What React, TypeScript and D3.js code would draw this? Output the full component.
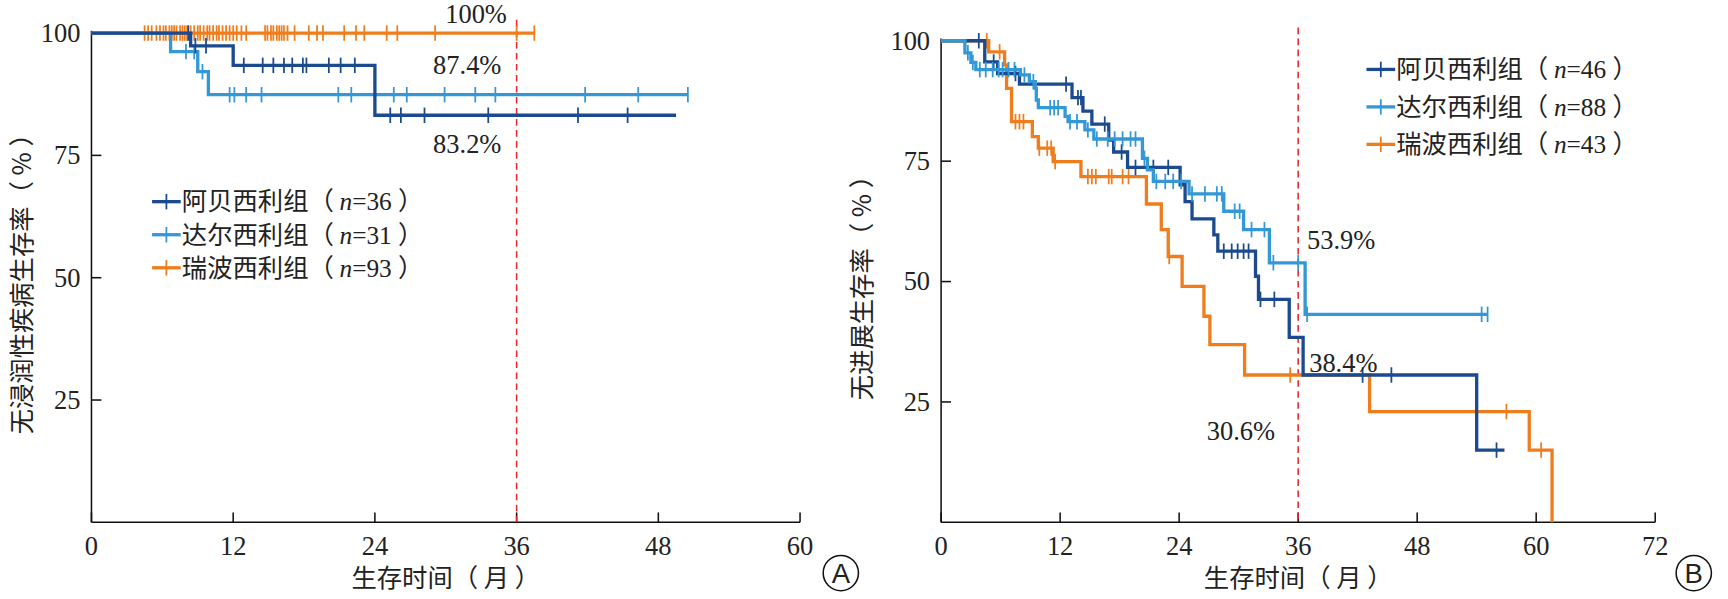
// @ts-nocheck
import { useRef, useEffect } from "react";
import * as d3 from "d3";

const COLORS = { abe: "#1b4a8e", dar: "#3497d6", rib: "#f07d1c" };
const xTicksA = [0, 12, 24, 36, 48, 60];
const xTicksB = [0, 12, 24, 36, 48, 60, 72];
const yTicks = [25, 50, 75, 100];

// Panel A: [month, survival %]
const aAbe = [[0, 100], [8.4, 97.4], [12, 93.4], [24, 83.2], [49.5, 83.2]];
const aDar = [[0, 100], [6.7, 96.2], [9, 92.1], [9.9, 87.4], [50.5, 87.4]];
const aRib = [[0, 100], [37.5, 100]];
const aAbeCens = [8.2, 8.8, 9.7, 12.9, 14.5, 15.4, 16.3, 17, 17.9, 18.2, 20.1, 21.1, 22.3, 25.3, 26.2, 28.2, 33.6, 41.2, 45.4];
const aDarCens = [8, 8.7, 9.4, 11.7, 12.1, 13.1, 14.4, 20.9, 22, 25.6, 26.7, 29.9, 32.5, 34.2, 41.8, 46.3, 50.5];
const aRibCens = [4.5, 4.8, 5.1, 5.5, 5.8, 6.1, 6.3, 6.6, 6.8, 7, 7.2, 7.5, 7.7, 7.9, 8.1, 8.4, 8.7, 9, 9.2, 9.5, 9.8, 10, 10.3, 10.6, 10.8, 11.1, 11.4, 11.7, 12, 12.3, 12.7, 13.1, 14.7, 14.9, 15.2, 15.4, 15.7, 15.9, 16.1, 16.3, 16.6, 17.2, 18.4, 19.1, 19.6, 21.4, 22.4, 23.1, 25, 25.9, 29.1, 36, 37.5];

// Panel B
const bAbe = [[0, 100], [4.4, 95.6], [5.7, 93.2], [7.9, 91], [13.2, 88.2], [14.3, 85.4], [15.2, 82.7], [16.9, 79.4], [17.4, 76.9], [18.8, 73.7], [24.1, 70.1], [24.6, 66.6], [25.3, 63], [27.5, 59.7], [27.9, 56.3], [31.7, 51.1], [32, 46.3], [35.1, 38.4], [36.5, 30.6], [54, 15], [56.8, 15]];
const bDar = [[0, 100], [2.4, 97.5], [3, 95.5], [3.5, 94], [8, 92.9], [8.9, 91.5], [9.5, 90.1], [9.6, 87.7], [9.8, 86.1], [12.5, 84.3], [12.8, 83.2], [14.5, 81.5], [15.4, 79.6], [20.3, 75.6], [20.8, 73.2], [21.4, 70.8], [25, 68.2], [28.5, 64.6], [30.5, 60.8], [33.1, 53.9], [36.7, 43.2], [55.1, 43.2]];
const bRib = [[0, 100], [4.8, 97.7], [6.4, 95], [6.6, 90.1], [7.1, 83.2], [9.2, 80.1], [9.8, 77.7], [11.3, 74.9], [14.1, 71.8], [20.7, 66.1], [22.2, 60.8], [22.9, 55.2], [24.3, 49], [26.5, 42.8], [27.1, 36.9], [30.6, 30.6], [43.2, 23], [59.3, 15], [61.6, 0]];
const bAbeCens = [3.8, 5.3, 7.5, 12.6, 13.8, 14.1, 16.5, 18.2, 19.6, 21.4, 22.9, 28.5, 29.3, 29.9, 30.5, 31, 32.2, 33.6, 42.5, 45.4, 56];
const bDarCens = [2.7, 3.2, 3.9, 4.5, 5.2, 5.8, 6.2, 6.8, 7.4, 8.4, 9.3, 11, 11.4, 11.8, 13, 13.7, 14.8, 15.7, 16.8, 17.5, 18.3, 19.1, 19.6, 20.5, 21.7, 22.6, 23.4, 24.2, 25.3, 26.6, 27.8, 28.3, 29.6, 30.1, 31.3, 32.6, 33.5, 36, 36.9, 54.5, 55.1];
const bRibCens = [4.6, 5.9, 7.5, 7.9, 8.3, 9.9, 10.7, 11.1, 11.5, 14.8, 15.2, 15.6, 16.9, 17.2, 18.3, 18.9, 23, 35.2, 57, 60.5];

const legendLabels = ["阿贝西利组（ ", "达尔西利组（ ", "瑞波西利组（ "];
const nA = [36, 31, 93];
const nB = [46, 88, 43];

const stepAt = (curve, t) => {
  let s = curve[0][1];
  for (const [ti, si] of curve) if (ti <= t) s = si;
  return s;
};

const drawPanel = (svg, cfg) => {
  const { x0, x1, yTop, yBot, xMax, xTicks, series, yTitle, labels, legend, letter, yTitleX } = cfg;
  const x = d3.scaleLinear().domain([0, xMax]).range([x0, x1]);
  const y = d3.scaleLinear().domain([0, 100]).range([yBot, yTop]);
  const g = svg.append("g").attr("font-family", "Liberation Serif, serif").attr("fill", "#222");

  g.append("line").attr("x1", x0).attr("x2", x0).attr("y1", y(100) - 2).attr("y2", yBot).attr("stroke", "#111").attr("stroke-width", 1.4);
  g.append("line").attr("x1", x0).attr("x2", x1).attr("y1", yBot).attr("y2", yBot).attr("stroke", "#111").attr("stroke-width", 1.4);
  xTicks.forEach((t) => {
    g.append("line").attr("x1", x(t)).attr("x2", x(t)).attr("y1", yBot).attr("y2", yBot - 9).attr("stroke", "#111").attr("stroke-width", 1.4);
    g.append("text").attr("x", x(t)).attr("y", yBot + 30).attr("text-anchor", "middle").attr("font-size", 24).text(t);
  });
  yTicks.forEach((t) => {
    g.append("line").attr("x1", x0).attr("x2", x0 + 9).attr("y1", y(t)).attr("y2", y(t)).attr("stroke", "#111").attr("stroke-width", 1.4);
    g.append("text").attr("x", x0 - 10).attr("y", y(t) + 8).attr("text-anchor", "end").attr("font-size", 24).text(t);
  });
  g.append("text").attr("x", (x0 + x1) / 2).attr("y", yBot + 59).attr("text-anchor", "middle").attr("font-size", 23)
    .attr("font-family", "Noto Sans CJK SC").text("生存时间（ 月 ）");
  g.append("text").attr("transform", `translate(${yTitleX},${(y(100) + yBot) / 2}) rotate(-90)`).attr("text-anchor", "middle")
    .attr("font-size", 23).attr("font-family", "Noto Sans CJK SC").text(yTitle);

  g.append("line").attr("x1", x(36)).attr("x2", x(36)).attr("y1", y(100) - 12).attr("y2", yBot)
    .attr("stroke", "#e8262b").attr("stroke-width", 1.4).attr("stroke-dasharray", "6,4");

  const line = d3.line().x((d) => x(d[0])).y((d) => y(d[1])).curve(d3.curveStepAfter);
  series.forEach(({ curve, cens, color }) => {
    g.append("path").attr("d", line(curve)).attr("fill", "none").attr("stroke", color).attr("stroke-width", 3);
    cens.forEach((t) => {
      const yy = y(stepAt(curve, t));
      g.append("line").attr("x1", x(t)).attr("x2", x(t)).attr("y1", yy - 7).attr("y2", yy + 7).attr("stroke", color).attr("stroke-width", 1.6);
    });
  });

  labels.forEach(([tx, ty, s]) => {
    g.append("text").attr("x", tx).attr("y", ty).attr("font-size", 24).text(s);
  });

  legend.items.forEach((it, i) => {
    const ly = legend.y + i * legend.dy;
    g.append("line").attr("x1", legend.x).attr("x2", legend.x + 26).attr("y1", ly).attr("y2", ly).attr("stroke", it.color).attr("stroke-width", 3);
    g.append("line").attr("x1", legend.x + 13).attr("x2", legend.x + 13).attr("y1", ly - 7).attr("y2", ly + 7).attr("stroke", it.color).attr("stroke-width", 1.6);
    const tx = g.append("text").attr("x", legend.x + 27).attr("y", ly + 8).attr("font-size", 23).attr("font-family", "Noto Sans CJK SC");
    tx.append("tspan").text(it.label);
    tx.append("tspan").attr("font-family", "Liberation Serif").attr("font-style", "italic").text("n");
    tx.append("tspan").attr("font-family", "Liberation Serif").text(`=${it.n} `);
    tx.append("tspan").text("）");
  });

  g.append("circle").attr("cx", letter.x).attr("cy", letter.y).attr("r", 16).attr("fill", "none").attr("stroke", "#111").attr("stroke-width", 1.4);
  g.append("text").attr("x", letter.x).attr("y", letter.y + 9).attr("text-anchor", "middle").attr("font-size", 25)
    .attr("font-family", "Liberation Sans").text(letter.t);
};

const App = () => {
  const svgRef = useRef();
  useEffect(() => {
    const svg = d3.select(svgRef.current);
    svg.selectAll("*").remove();
    const root = svg.append("g").attr("transform", "scale(1.102)");
    const colors = [COLORS.abe, COLORS.dar, COLORS.rib];
    drawPanel(root, {
      x0: 83, x1: 726, yTop: 30, yBot: 474, xMax: 60, xTicks: xTicksA, yTitleX: 28,
      yTitle: "无浸润性疾病生存率（ % ）",
      series: [
        { curve: aRib, cens: aRibCens, color: COLORS.rib },
        { curve: aDar, cens: aDarCens, color: COLORS.dar },
        { curve: aAbe, cens: aAbeCens, color: COLORS.abe },
      ],
      labels: [[404, 21, "100%"], [393, 67, "87.4%"], [393, 139, "83.2%"]],
      legend: { x: 138, y: 183, dy: 30, items: legendLabels.map((l, i) => ({ label: l, n: nA[i], color: colors[i] })) },
      letter: { x: 763, y: 520, t: "A" },
    });
    drawPanel(root, {
      x0: 854, x1: 1502, yTop: 37, yBot: 474, xMax: 72, xTicks: xTicksB, yTitleX: 790,
      yTitle: "无进展生存率（ % ）",
      series: [
        { curve: bRib, cens: bRibCens, color: COLORS.rib },
        { curve: bAbe, cens: bAbeCens, color: COLORS.abe },
        { curve: bDar, cens: bDarCens, color: COLORS.dar },
      ],
      labels: [[1186, 226, "53.9%"], [1188, 338, "38.4%"], [1095, 399, "30.6%"]],
      legend: { x: 1240, y: 63, dy: 34, items: legendLabels.map((l, i) => ({ label: l, n: nB[i], color: colors[i] })) },
      letter: { x: 1537, y: 520, t: "B" },
    });
  }, []);
  return <svg ref={svgRef} width={1728} height={599} style={{ display: "block", position: "absolute", left: 0, top: 0 }}></svg>;
};

export default App;
